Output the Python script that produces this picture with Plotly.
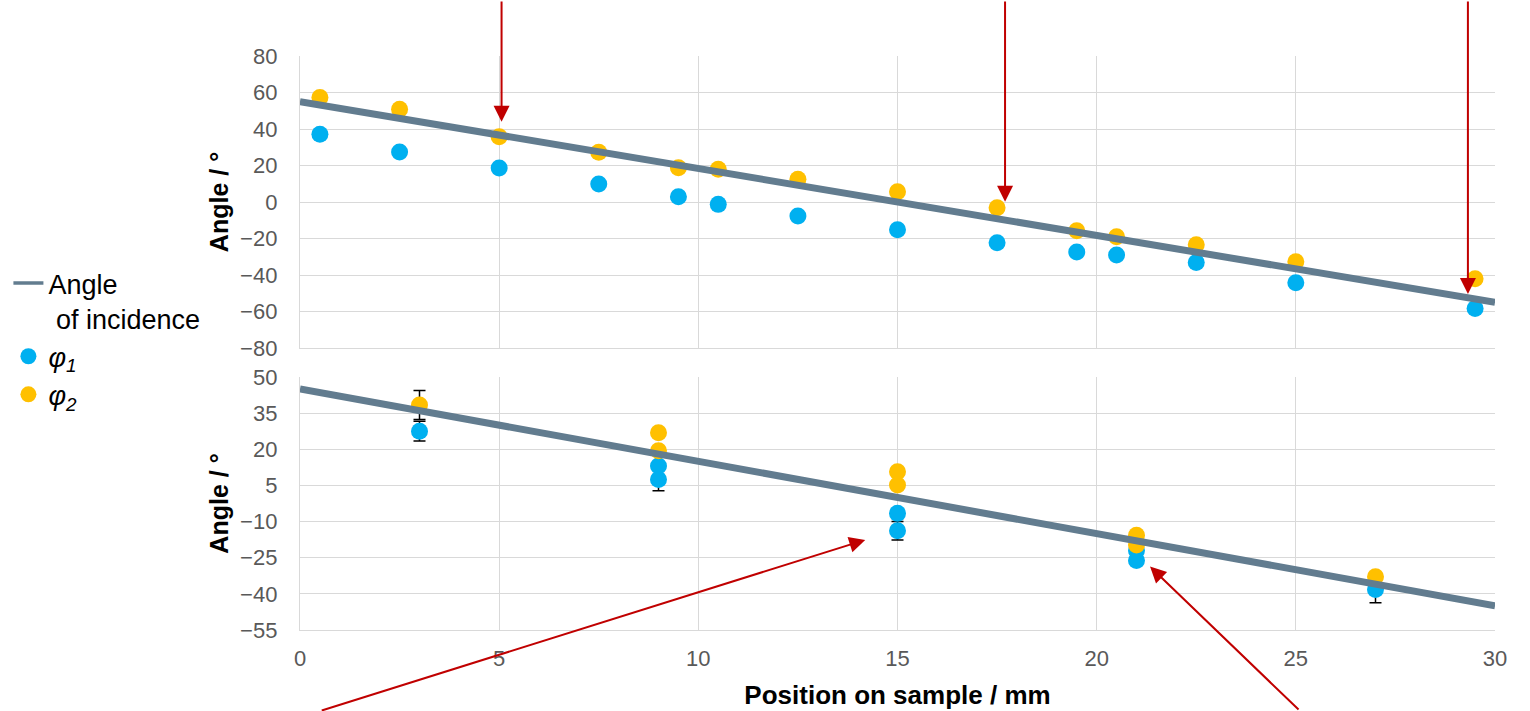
import plotly.graph_objects as go

# ---------------- data ----------------
top_x = [0.5, 2.5, 5, 7.5, 9.5, 10.5, 12.5, 15, 17.5, 19.5, 20.5, 22.5, 25, 29.5]
top_phi1 = [37.1, 27.4, 18.6, 9.9, 2.9, -1.3, -7.7, -15.2, -22.3, -27.4, -29.0, -33.2, -44.2, -58.4]
top_phi2 = [57.2, 50.8, 35.8, 27.2, 18.8, 17.9, 12.4, 5.6, -3.1, -15.7, -19.0, -23.4, -32.7, -42.0]
top_line_x = [0, 30]
top_line_y = [55, -55]

bot_x = [3, 9, 9, 15, 15, 21, 21, 27]
bot_phi1 = [27.5, 13.1, 7.5, -6.6, -13.8, -22.0, -26.2, -38.2]
bot_phi1_err = [4.1, 0, 4.7, 0, 3.8, 0, 0, 5.5]
bot_phi2 = [38.4, 26.9, 19.4, 10.7, 5.2, -15.7, -19.7, -32.9]
bot_phi2_err = [6.0, 0, 0, 0, 0, 0, 0, 0]
bot_line_x = [0, 30]
bot_line_y = [45, -45]

x_ticks = [0, 5, 10, 15, 20, 25, 30]
top_yticks = [-80, -60, -40, -20, 0, 20, 40, 60, 80]
bot_yticks = [-55, -40, -25, -10, 5, 20, 35, 50]

names = ["Angle<br>&nbsp;of incidence", "<i>φ<sub>1</sub></i>", "<i>φ<sub>2</sub></i>"]

BLUE = "#00B0F0"
ORANGE = "#FFC000"
LINE = "#627C8F"
RED = "#C00000"
FONT = "Liberation Sans, Arial, sans-serif"

fig = go.Figure()

# legend entry for the line (thinner symbol, as in the reference legend)
fig.add_trace(go.Scatter(x=[None], y=[None], mode="lines", name=names[0], legendrank=1,
                         line=dict(color=LINE, width=3.5), xaxis="x", yaxis="y"))

# top panel
fig.add_trace(go.Scatter(x=top_x, y=top_phi1, mode="markers", name=names[1], legendrank=2,
                         marker=dict(color=BLUE, size=17), xaxis="x", yaxis="y"))
fig.add_trace(go.Scatter(x=top_x, y=top_phi2, mode="markers", name=names[2], legendrank=3,
                         marker=dict(color=ORANGE, size=17), xaxis="x", yaxis="y"))
fig.add_trace(go.Scatter(x=top_line_x, y=top_line_y, mode="lines", name=names[0], showlegend=False,
                         line=dict(color=LINE, width=7), xaxis="x", yaxis="y"))

# bottom panel
err_style = dict(type="data", symmetric=True, color="black", thickness=1.5, width=6)
fig.add_trace(go.Scatter(x=bot_x, y=bot_phi1, mode="markers", name=names[1], showlegend=False,
                         marker=dict(color=BLUE, size=17),
                         error_y=dict(array=bot_phi1_err, **err_style), xaxis="x2", yaxis="y2"))
fig.add_trace(go.Scatter(x=bot_x, y=bot_phi2, mode="markers", name=names[2], showlegend=False,
                         marker=dict(color=ORANGE, size=17),
                         error_y=dict(array=bot_phi2_err, **err_style), xaxis="x2", yaxis="y2"))
fig.add_trace(go.Scatter(x=bot_line_x, y=bot_line_y, mode="lines", name=names[0], showlegend=False,
                         line=dict(color=LINE, width=7), xaxis="x2", yaxis="y2"))

grid = "#D9D9D9"
tickfont = dict(family=FONT, size=22, color="#595959")
ytitlefont = dict(family=FONT, size=25, color="black")
xtitlefont = dict(family=FONT, size=26, color="black")

common_x = dict(range=[0, 30], tickvals=x_ticks, showgrid=True, gridcolor=grid, gridwidth=1.3,
                zeroline=False, showline=True, linecolor=grid, linewidth=1.3, ticks="",
                automargin=False)
common_y = dict(showgrid=True, gridcolor=grid, gridwidth=1.3, zeroline=False, showline=True,
                linecolor=grid, linewidth=1.3, ticks="", tickfont=tickfont, ticklabelstandoff=17,
                automargin=False)
fig.update_layout(
    width=1530, height=711,
    margin=dict(l=300, r=35, t=56, b=81, autoexpand=False),
    paper_bgcolor="white", plot_bgcolor="white",
    font=dict(family=FONT),
    xaxis=dict(domain=[0, 1], anchor="y", showticklabels=False, **common_x),
    xaxis2=dict(domain=[0, 1], anchor="y2", tickfont=tickfont, ticklabelstandoff=8,
                title=dict(text="<b>Position on sample / mm</b>", font=xtitlefont, standoff=16),
                **common_x),
    yaxis=dict(domain=[0.4913, 1], anchor="x", range=[-80, 80], tickvals=top_yticks,
               title=dict(text="<b>Angle / °</b>", font=ytitlefont, standoff=8), **common_y),
    yaxis2=dict(domain=[0, 0.4408], anchor="x2", range=[-55, 50], tickvals=bot_yticks,
                title=dict(text="<b>Angle / °</b>", font=ytitlefont, standoff=8), **common_y),
    legend=dict(xref="container", yref="container", x=0.0055, y=0.6357,
                xanchor="left", yanchor="top", valign="top",
                font=dict(family=FONT, size=27, color="black"), bgcolor="rgba(0,0,0,0)",
                tracegroupgap=0),
)

arrow = dict(showarrow=True, text="", arrowhead=2, arrowsize=1.6, arrowwidth=2,
             arrowcolor=RED, axref="pixel", ayref="pixel", standoff=0)
fig.add_annotation(x=5.06, y=44, xref="x", yref="y", ax=0, ay=-122, **arrow)
fig.add_annotation(x=17.70, y=0.2, xref="x", yref="y", ax=0, ay=-202, **arrow)
fig.add_annotation(x=29.32, y=-50.4, xref="x", yref="y", ax=0, ay=-294, **arrow)
fig.add_annotation(x=14.19, y=-17.6, xref="x2", yref="y2", ax=-545, ay=174, **arrow)
fig.add_annotation(x=21.34, y=-28.7, xref="x2", yref="y2", ax=150, ay=147, **arrow)

fig.write_html("out.html")
